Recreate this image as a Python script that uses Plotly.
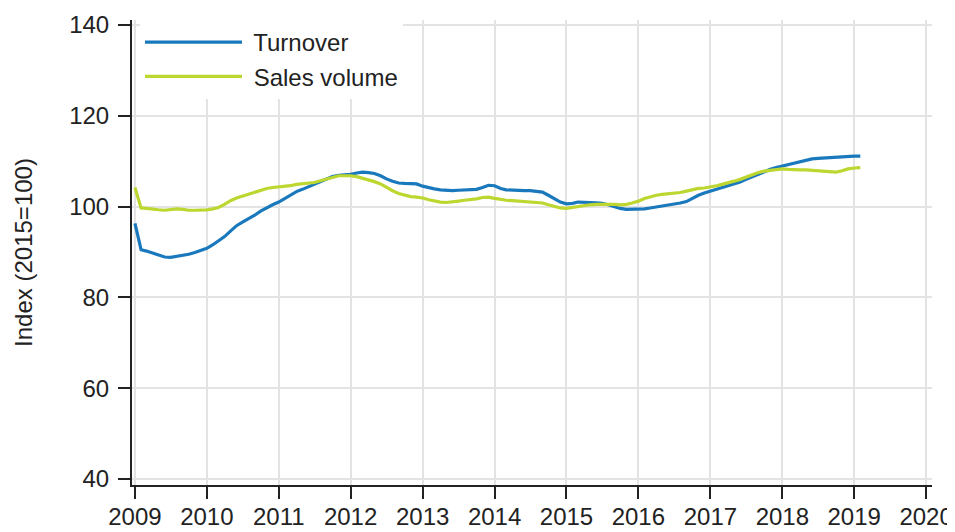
import pandas as pd
import plotly.graph_objects as go

months = pd.date_range("2009-01-01", "2019-02-01", freq="MS")

turnover = [
    96.3, 90.5, 90.2, 89.8, 89.3, 88.9, 88.8, 89.0, 89.2, 89.5, 89.9, 90.3,
    90.8, 91.6, 92.4, 93.4, 94.6, 95.8, 96.6, 97.3, 98.1, 99.0, 99.8, 100.4,
    101.0, 101.8, 102.7, 103.3, 103.8, 104.4, 104.9, 105.5, 106.1, 106.6, 106.9, 107.0,
    107.1, 107.4, 107.6, 107.5, 107.3, 106.8, 106.1, 105.6, 105.2, 105.1, 105.1, 105.0,
    104.5, 104.1, 103.9, 103.7, 103.6, 103.5, 103.6, 103.7, 103.8, 103.8, 104.2, 104.7,
    104.6, 104.0, 103.7, 103.6, 103.6, 103.5, 103.5, 103.4, 103.2, 102.5, 101.7, 101.0,
    100.6, 100.7, 101.0, 101.0, 100.9, 100.8, 100.7, 100.4, 100.0, 99.6, 99.4, 99.4,
    99.4, 99.5, 99.7, 99.9, 100.1, 100.3, 100.6, 100.8, 101.1, 101.8, 102.5, 103.0,
    103.4, 103.8, 104.1, 104.5, 104.9, 105.4, 106.0, 106.6, 107.2, 107.7, 108.2, 108.6,
    108.9, 109.2, 109.5, 109.8, 110.2, 110.5, 110.6, 110.7, 110.8, 110.9, 111.0, 111.0,
    111.1, 111.1,
]

sales_volume = [
    104.2, 99.7, 99.6, 99.4, 99.3, 99.2, 99.3, 99.5, 99.4, 99.2, 99.2, 99.2,
    99.3, 99.5, 99.8, 100.5, 101.3, 101.9, 102.3, 102.8, 103.2, 103.6, 104.0, 104.2,
    104.3, 104.4, 104.6, 104.9, 105.0, 105.1, 105.3, 105.7, 106.1, 106.5, 106.8, 106.8,
    106.8, 106.6, 106.3, 105.9, 105.5, 105.0, 104.2, 103.5, 102.9, 102.5, 102.2, 102.1,
    101.9, 101.5, 101.2, 101.0, 100.9, 101.0, 101.2, 101.4, 101.5, 101.7, 102.0, 102.1,
    101.8, 101.5, 101.4, 101.3, 101.2, 101.1, 101.0, 101.0, 100.8, 100.4, 100.0, 99.7,
    99.6, 99.8, 100.1, 100.3, 100.4, 100.5, 100.5, 100.6, 100.5, 100.4, 100.5, 100.8,
    101.2, 101.8, 102.2, 102.5, 102.7, 102.8, 102.9, 103.1, 103.4, 103.7, 104.0, 104.1,
    104.3, 104.6, 104.9, 105.2, 105.6, 106.0, 106.5, 107.0, 107.5, 107.8, 108.0, 108.2,
    108.3, 108.2, 108.1, 108.1, 108.1, 108.0, 107.9, 107.7, 107.6, 107.6, 107.9, 108.3,
    108.5, 108.6,
]

series_names = ["Turnover", "Sales volume"]
series_colors = ["#1a78bd", "#bdd630"]
y_title = "Index (2015=100)"

FONT = "Liberation Sans, Arial, sans-serif"
FS = 24

fig = go.Figure()
for name, vals, col in zip(series_names, [turnover, sales_volume], series_colors):
    fig.add_trace(go.Scatter(x=months, y=vals, mode="lines", name=" " + name,
                             line=dict(color=col, width=3.2)))

axis_color = "#222222"
grid_color = "#e3e3e3"

# page body has an 8px default margin; figure sized to fit the 955x532 window
fig.update_layout(
    width=947, height=524,
    margin=dict(l=124, r=23, t=12, b=47, autoexpand=False),
    paper_bgcolor="white", plot_bgcolor="white",
    font=dict(family=FONT, color="#222222", size=FS),
    showlegend=True,
    legend=dict(x=0.01, y=1.0, xanchor="left", yanchor="top",
                bgcolor="white", borderwidth=0,
                font=dict(size=FS, family=FONT, color="#222222"),
                itemwidth=97, tracegroupgap=0),
)

fig.update_xaxes(
    type="date",
    range=["2008-12-17", "2020-01-31"],
    tick0="2009-01-01", dtick="M12", tickformat="%Y",
    showgrid=True, gridcolor=grid_color, gridwidth=2,
    showline=True, linecolor=axis_color, linewidth=2,
    ticks="outside", ticklen=12, tickwidth=2, tickcolor=axis_color,
    tickfont=dict(size=FS, family=FONT), ticklabelstandoff=-3,
    zeroline=False, automargin=False,
)
fig.update_yaxes(
    range=[38.68, 141.1],
    tickvals=[40, 60, 80, 100, 120, 140],
    showgrid=True, gridcolor=grid_color, gridwidth=2,
    showline=True, linecolor=axis_color, linewidth=2,
    ticks="outside", ticklen=12, tickwidth=2, tickcolor=axis_color,
    tickfont=dict(size=FS, family=FONT), ticklabelstandoff=4,
    title=dict(text=y_title, font=dict(size=FS, family=FONT), standoff=30),
    zeroline=False, automargin=False,
)

fig.write_html("out.html")
